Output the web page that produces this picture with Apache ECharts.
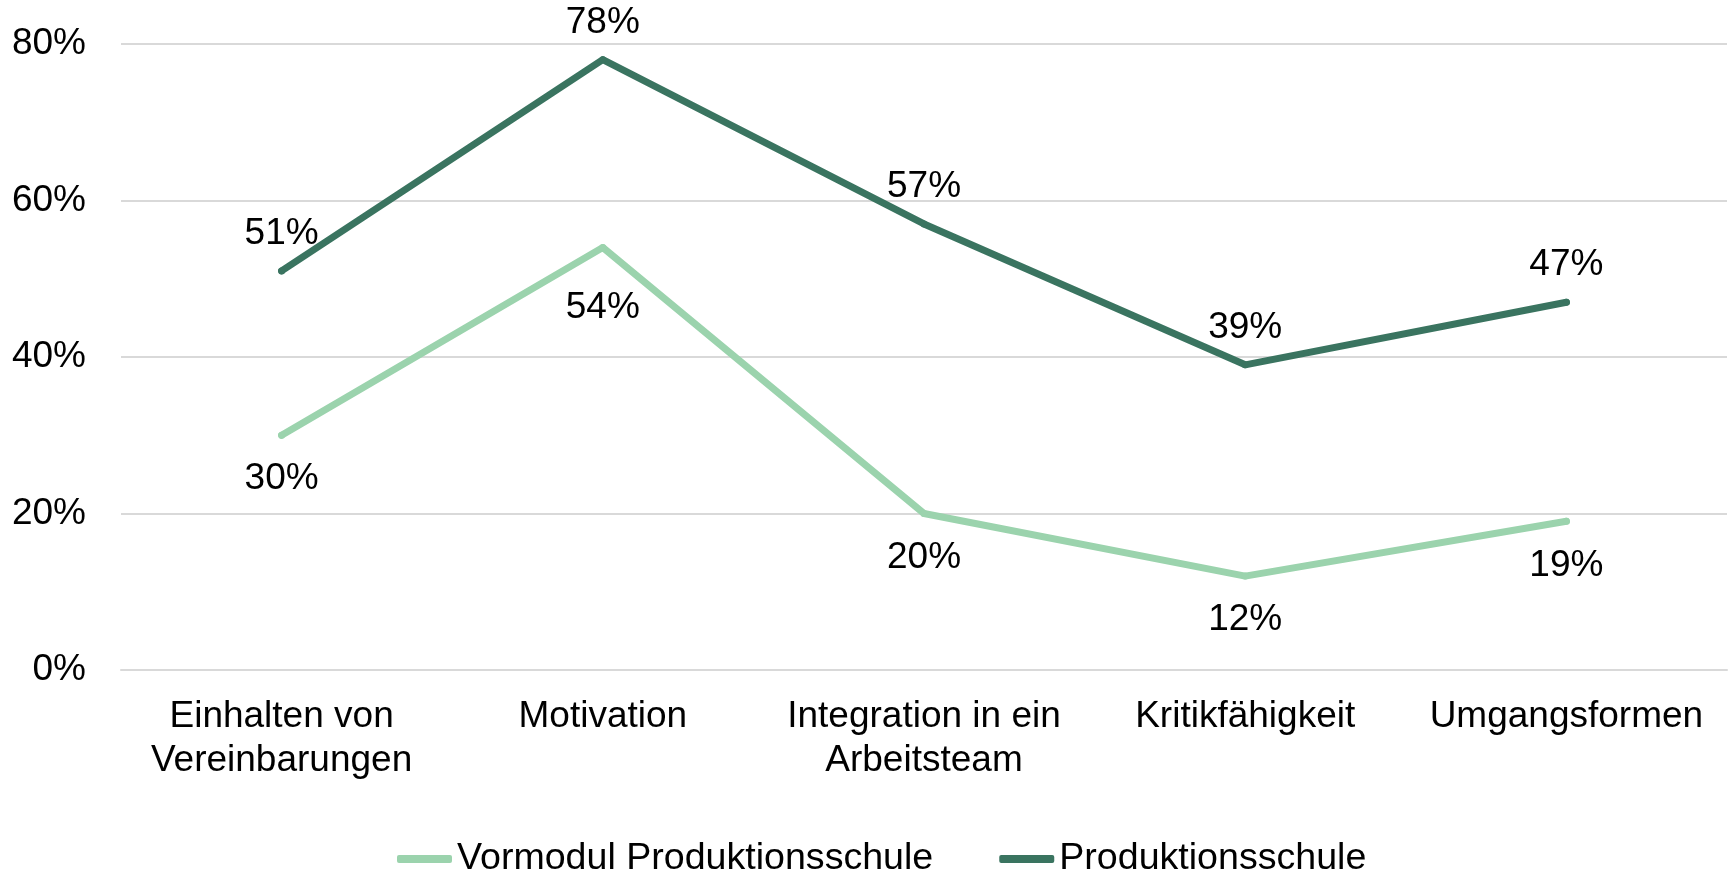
<!DOCTYPE html>
<html>
<head>
<meta charset="utf-8">
<script src="https://cdn.jsdelivr.net/npm/echarts@6/dist/echarts.min.js"></script>
<style>
  html, body { margin: 0; padding: 0; background: #fff; }
  #chart { width: 1728px; height: 872px; }
</style>
</head>
<body>
<div id="chart"></div>
<script>
var categories = ['Einhalten von\nVereinbarungen', 'Motivation', 'Integration in ein\nArbeitsteam', 'Kritikfähigkeit', 'Umgangsformen'];
var seriesNames = ['Vormodul Produktionsschule', 'Produktionsschule'];
var vormodul = [30, 54, 20, 12, 19];
var produktion = [51, 78, 57, 39, 47];
var yTicks = [0, 20, 40, 60, 80];

var font = 'Liberation Sans, Arial, sans-serif';
var lightGreen = '#9bd3ad';
var darkGreen = '#3a7460';

var dom = document.getElementById('chart');
var myChart = echarts.init(dom);

// light line: labels below, the peak one sits a bit lower
var lightData = vormodul.map(function (v, i) {
    var item = { value: v };
    if (i === 1) item.label = { distance: 38 };
    return item;
});

var option = {
    backgroundColor: '#ffffff',
    animation: false,
    textStyle: { fontFamily: font },
    grid: { left: 121, right: 1, top: 44, bottom: 202 },
    legend: {
        left: 392,
        top: 835,
        itemWidth: 55,
        itemHeight: 8,
        itemGap: 66,
        icon: 'roundRect',
        textStyle: { fontFamily: font, fontSize: 37.6, color: '#000' },
        data: seriesNames
    },
    xAxis: {
        type: 'category',
        data: categories,
        boundaryGap: true,
        axisLine: { show: true, lineStyle: { color: '#d9d9d9', width: 2 } },
        axisTick: { show: false },
        axisLabel: {
            interval: 0,
            margin: 25,
            fontFamily: font,
            fontSize: 37,
            lineHeight: 44,
            color: '#000'
        }
    },
    yAxis: {
        type: 'value',
        min: yTicks[0],
        max: yTicks[yTicks.length - 1],
        interval: 20,
        axisLine: { show: false },
        axisTick: { show: false },
        splitLine: { lineStyle: { color: '#d9d9d9', width: 2 } },
        axisLabel: {
            margin: 35,
            fontFamily: font,
            fontSize: 37,
            color: '#000',
            formatter: '{value}%'
        }
    },
    series: [
        {
            name: seriesNames[0],
            type: 'line',
            data: lightData,
            symbol: 'circle',
            symbolSize: 7,
            color: lightGreen,
            lineStyle: { width: 7, color: lightGreen, cap: 'round', join: 'round' },
            label: {
                show: true,
                position: 'bottom',
                distance: 22,
                fontFamily: font,
                fontSize: 37,
                color: '#000',
                formatter: '{c}%'
            }
        },
        {
            name: seriesNames[1],
            type: 'line',
            data: produktion,
            symbol: 'circle',
            symbolSize: 7,
            color: darkGreen,
            lineStyle: { width: 7, color: darkGreen, cap: 'round', join: 'round' },
            label: {
                show: true,
                position: 'top',
                distance: 15,
                fontFamily: font,
                fontSize: 37,
                color: '#000',
                formatter: '{c}%'
            }
        }
    ]
};

if (option && typeof option === 'object') {
    myChart.setOption(option, true);
}
</script>
</body>
</html>
